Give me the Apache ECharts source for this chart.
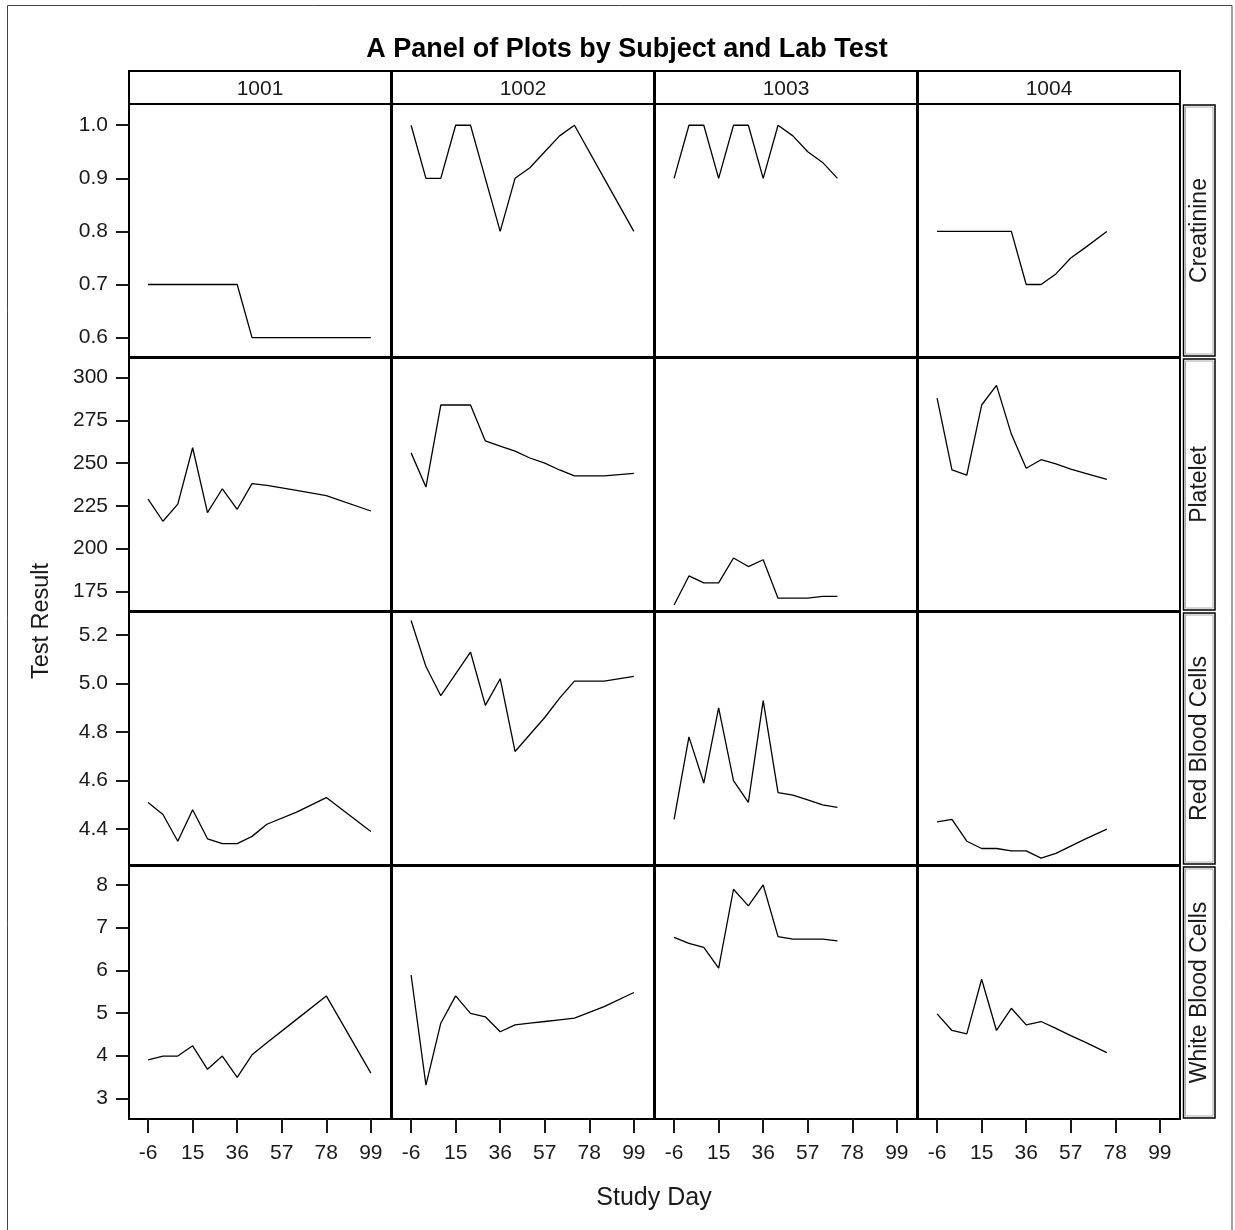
<!DOCTYPE html>
<html>
<head>
  <meta charset="UTF-8">
  <title>A Panel of Plots by Subject and Lab Test</title>
  <script src="https://cdn.jsdelivr.net/npm/echarts@6/dist/echarts.min.js"></script>
</head>
<body style="margin:0">
  <div id="main" style="width:1235px; height:1230px"></div>
  <script>
    // panel columns = subjects, rows = lab tests
    var subjects = ['1001', '1002', '1003', '1004'];
    var labs = ['Creatinine', 'Platelet', 'Red Blood Cells', 'White Blood Cells'];
    var dayTicks = [-6, 15, 36, 57, 78, 99];

    var creatinineTicks = [0.6, 0.7, 0.8, 0.9, 1.0];
    var plateletTicks = [175, 200, 225, 250, 275, 300];
    var rbcTicks = [4.4, 4.6, 4.8, 5.0, 5.2];
    var wbcTicks = [3, 4, 5, 6, 7, 8];

    // study days per subject
    var days1001 = [-6, 1, 8, 15, 22, 29, 36, 43, 50, 64, 78, 99];
    var days1002 = [-6, 1, 8, 15, 22, 29, 36, 43, 50, 57, 64, 71, 85, 99];
    var days1003 = [-6, 1, 8, 15, 22, 29, 36, 43, 50, 57, 64, 71];
    var days1004 = [-6, 1, 8, 15, 22, 29, 36, 43, 50, 57, 64, 74];

    // results
    var creat1001 = [0.7, 0.7, 0.7, 0.7, 0.7, 0.7, 0.7, 0.6, 0.6, 0.6, 0.6, 0.6];
    var plat1001 = [229, 216, 226, 259, 221, 235, 223, 238, 237, 234, 231, 222];
    var rbc1001 = [4.51, 4.46, 4.35, 4.48, 4.36, 4.34, 4.34, 4.37, 4.42, 4.47, 4.53, 4.39];
    var wbc1001 = [3.90, 3.99, 3.99, 4.23, 3.68, 3.99, 3.49, 4.02, 4.30, 4.85, 5.40, 3.59];

    var creat1002 = [1.0, 0.9, 0.9, 1.0, 1.0, 0.9, 0.8, 0.9, 0.92, 0.95, 0.98, 1.0, 0.9, 0.8];
    var plat1002 = [256, 236, 284, 284, 284, 263, 260, 257, 253, 250, 246, 242.5, 242.5, 244];
    var rbc1002 = [5.26, 5.07, 4.95, 5.04, 5.13, 4.91, 5.02, 4.72, 4.79, 4.86, 4.94, 5.01, 5.01, 5.03];
    var wbc1002 = [5.89, 3.31, 4.76, 5.40, 4.99, 4.91, 4.56, 4.72, 4.76, 4.80, 4.84, 4.88, 5.15, 5.48];

    var creat1003 = [0.9, 1.0, 1.0, 0.9, 1.0, 1.0, 0.9, 1.0, 0.98, 0.95, 0.93, 0.9];
    var plat1003 = [167, 184, 180, 180, 194.5, 189.5, 193.5, 171, 171, 171, 172, 172];
    var rbc1003 = [4.44, 4.78, 4.59, 4.90, 4.60, 4.51, 4.93, 4.55, 4.54, 4.52, 4.50, 4.49];
    var wbc1003 = [6.77, 6.63, 6.54, 6.05, 7.90, 7.51, 8.0, 6.79, 6.73, 6.73, 6.73, 6.69];

    var creat1004 = [0.8, 0.8, 0.8, 0.8, 0.8, 0.8, 0.7, 0.7, 0.72, 0.75, 0.77, 0.8];
    var plat1004 = [288, 246, 243, 284, 295.5, 267, 247, 252, 249.5, 246.5, 244, 240.5];
    var rbc1004 = [4.43, 4.44, 4.35, 4.32, 4.32, 4.31, 4.31, 4.28, 4.30, 4.33, 4.36, 4.40];
    var wbc1004 = [4.98, 4.59, 4.51, 5.79, 4.59, 5.11, 4.72, 4.80, 4.64, 4.47, 4.31, 4.07];

    var dayList = [days1001, days1002, days1003, days1004];
    var results = [
      [creat1001, creat1002, creat1003, creat1004],
      [plat1001, plat1002, plat1003, plat1004],
      [rbc1001, rbc1002, rbc1003, rbc1004],
      [wbc1001, wbc1002, wbc1003, wbc1004]
    ];
    var rowTicks = [creatinineTicks, plateletTicks, rbcTicks, wbcTicks];
    var rowDecimals = [1, 0, 1, 0];
    var rowMin = [0.5635, 163.5, 4.252, 2.515];
    var rowMax = [1.04, 311.5, 5.295, 8.445];

    // layout
    var colLeft = [129, 392, 655, 918];
    var colWidth = 262;
    var rowTop = [104, 358, 612, 866];
    var rowHeight = 253;
    var font = 'Liberation Sans, Arial, sans-serif';
    var ink = '#1a1a1a';

    var grids = [], xAxes = [], yAxes = [], series = [];
    var graphics = [];

    for (var r = 0; r < 4; r++) {
      for (var c = 0; c < 4; c++) {
        var idx = r * 4 + c;
        grids.push({
          left: colLeft[c], top: rowTop[r], width: colWidth, height: rowHeight,
          show: true, borderColor: '#000', borderWidth: 2
        });
        var bottomRow = (r === 3);
        xAxes.push({
          type: 'value', gridIndex: idx, min: -15, max: 108.5,
          position: 'bottom',
          axisLine: { show: false, onZero: false },
          splitLine: { show: false },
          axisTick: {
            show: bottomRow, customValues: dayTicks, length: 14,
            lineStyle: { color: ink, width: 2 }
          },
          axisLabel: {
            show: bottomRow, customValues: dayTicks, margin: 24,
            fontSize: 21, fontFamily: font, color: ink
          }
        });
        var firstCol = (c === 0);
        var dec = rowDecimals[r];
        yAxes.push({
          type: 'value', gridIndex: idx, min: rowMin[r], max: rowMax[r],
          position: 'left',
          axisLine: { show: false, onZero: false },
          splitLine: { show: false },
          axisTick: {
            show: firstCol, customValues: rowTicks[r], length: 13,
            lineStyle: { color: ink, width: 2 }
          },
          axisLabel: {
            show: firstCol, customValues: rowTicks[r], margin: 21,
            fontSize: 21, fontFamily: font, color: ink,
            formatter: (function (d) {
              return function (v) { return Number(v).toFixed(d); };
            })(dec)
          }
        });
        var days = dayList[c];
        var vals = results[r][c];
        series.push({
          type: 'line', xAxisIndex: idx, yAxisIndex: idx,
          data: days.map(function (d, i) { return [d, vals[i]]; }),
          showSymbol: false, silent: true,
          lineStyle: { color: '#000', width: 1.3 }
        });
      }
    }

    // outer frame
    graphics.push({
      type: 'rect', shape: { x: 7.5, y: 5.5, width: 1224.5, height: 1240 },
      style: { fill: 'none', stroke: '#444', lineWidth: 1 }
    });

    // column headers (subjects)
    subjects.forEach(function (s, c) {
      graphics.push({
        type: 'rect', shape: { x: colLeft[c], y: 71, width: colWidth, height: 33 },
        style: { fill: '#fff', stroke: '#000', lineWidth: 2 }
      });
      graphics.push({
        type: 'text', x: colLeft[c] + colWidth / 2, y: 89,
        style: {
          text: s, font: '21px ' + font, fill: ink,
          textAlign: 'center', textVerticalAlign: 'middle',
          align: 'center', verticalAlign: 'middle'
        }
      });
    });

    // row strips (lab tests)
    labs.forEach(function (lab, r) {
      graphics.push({
        type: 'rect', shape: { x: 1183.5, y: rowTop[r] + 1, width: 31.5, height: rowHeight - 2 },
        style: { fill: '#fff', stroke: '#000', lineWidth: 1.5 }
      });
      graphics.push({
        type: 'rect', shape: { x: 1185.5, y: rowTop[r] + 3, width: 27.5, height: rowHeight - 6 },
        style: { fill: 'none', stroke: '#aaa', lineWidth: 1 }
      });
      graphics.push({
        type: 'text', x: 1200, y: rowTop[r] + rowHeight / 2, rotation: Math.PI / 2,
        style: {
          text: lab, font: '23px ' + font, fill: ink,
          textAlign: 'center', textVerticalAlign: 'middle',
          align: 'center', verticalAlign: 'middle'
        }
      });
    });

    // axis titles
    graphics.push({
      type: 'text', x: 42, y: 621, rotation: Math.PI / 2,
      style: {
        text: 'Test Result', font: '23.5px ' + font, fill: ink,
        textAlign: 'center', textVerticalAlign: 'middle',
        align: 'center', verticalAlign: 'middle'
      }
    });
    graphics.push({
      type: 'text', x: 654, y: 1198,
      style: {
        text: 'Study Day', font: '25px ' + font, fill: ink,
        textAlign: 'center', textVerticalAlign: 'middle',
        align: 'center', verticalAlign: 'middle'
      }
    });

    var myChart = echarts.init(document.getElementById('main'));
    var option = {
      backgroundColor: '#fff',
      animation: false,
      title: {
        text: 'A Panel of Plots by Subject and Lab Test',
        left: 622, top: 31, textAlign: 'center',
        textStyle: { fontSize: 27, fontWeight: 'bold', fontFamily: font, color: '#000' }
      },
      grid: grids,
      xAxis: xAxes,
      yAxis: yAxes,
      series: series,
      graphic: { elements: graphics }
    };
    myChart.setOption(option);
  </script>
</body>
</html>
